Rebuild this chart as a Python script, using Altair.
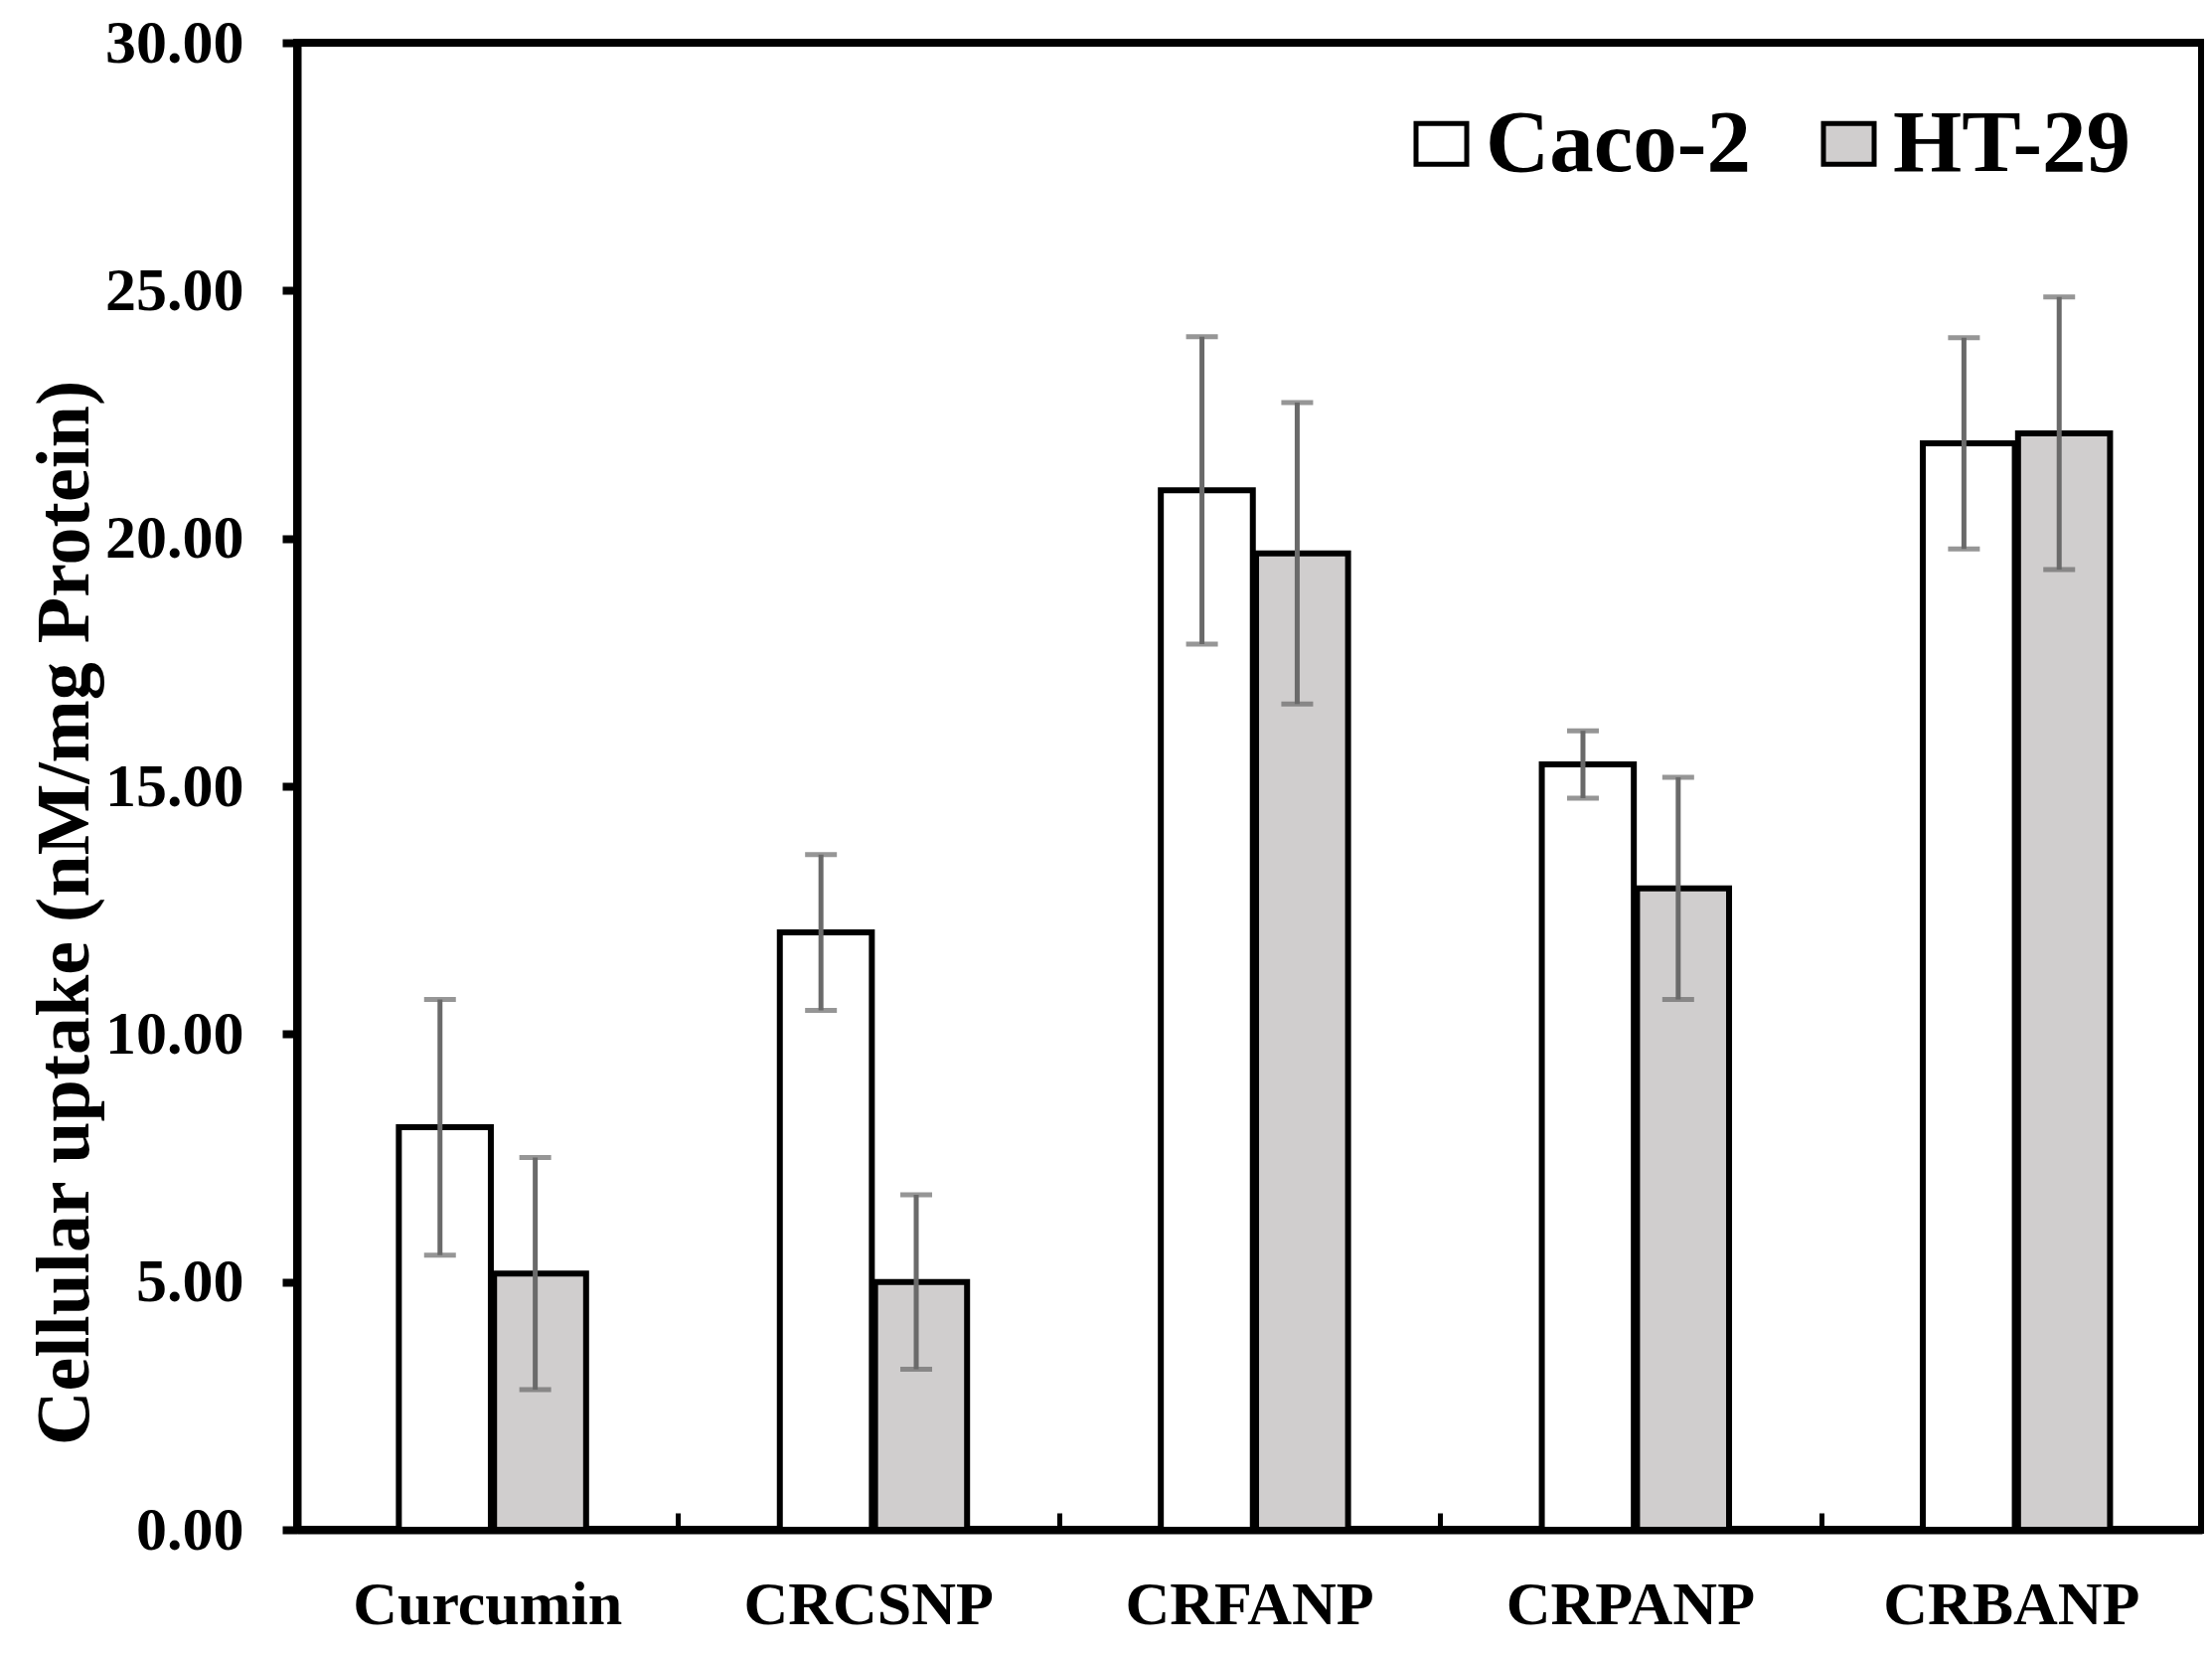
import altair as alt
import pandas as pd

categories = ["Curcumin", "CRCSNP", "CRFANP", "CRPANP", "CRBANP"]
cells = ["Caco-2", "HT-29"]
caco2_values = [8.12, 12.05, 20.97, 15.44, 21.92]
caco2_errors = [2.58, 1.57, 3.10, 0.68, 2.13]
ht29_values = [5.17, 5.00, 19.70, 12.94, 22.12]
ht29_errors = [2.34, 1.76, 3.04, 2.24, 2.75]
y_ticks = [0, 5, 10, 15, 20, 25, 30]
fill_colors = ["#FFFFFF", "#D0CECE"]

rows = []
for cell, vals, errs in [("Caco-2", caco2_values, caco2_errors), ("HT-29", ht29_values, ht29_errors)]:
    for c, v, e in zip(categories, vals, errs):
        rows.append({"cat": c, "cell": cell, "value": v, "lo": v - e, "hi": v + e})
df = pd.DataFrame(rows)

W, H = 1917, 1496
FONT = "Liberation Serif"
ERR = "#6A6A6A"
YTITLE = "Cellular uptake (nM/mg Protein)"

xscale = alt.Scale(paddingInner=0, paddingOuter=0)
xoscale = alt.Scale(domain=cells, paddingInner=0, paddingOuter=1)
yscale = alt.Scale(domain=[0, 30], nice=False, zero=True)

y_axis = alt.Axis(values=y_ticks, format=".2f", title=YTITLE,
                  grid=False, tickSize=15, tickWidth=8, tickColor="black",
                  domainColor="black", domainWidth=8, labelPadding=39, labelLimit=0,
                  labelFont=FONT, labelFontSize=62, labelFontWeight="bold", labelColor="black",
                  titleFont=FONT, titleFontSize=76, titleFontWeight="bold", titleColor="black",
                  titleAngle=270, titleAlign="center", titleBaseline="middle",
                  titleX=-234, titleY=875, titleLimit=0)

base = alt.Chart(df)

bars = base.mark_bar(stroke="black", strokeWidth=6, width=alt.RelativeBandSize(0.966)).encode(
    x=alt.X("cat:N", sort=categories, scale=xscale,
            axis=alt.Axis(title=None, ticks=False, labelAngle=0, labelPadding=45, labelLimit=0,
                          labelFont=FONT, labelFontSize=62, labelFontWeight="bold",
                          labelColor="black", domainColor="black", domainWidth=8)),
    xOffset=alt.XOffset("cell:N", sort=cells, scale=xoscale),
    y=alt.Y("value:Q", scale=yscale, axis=y_axis, title=YTITLE),
    fill=alt.Fill("cell:N", sort=cells, scale=alt.Scale(domain=cells, range=fill_colors),
                  legend=alt.Legend(title=None, orient="none", legendX=1107, legendY=57,
                                    direction="horizontal", padding=0, columnPadding=54,
                                    labelOffset=0, labelFont=FONT, labelFontSize=89,
                                    labelFontWeight="bold", labelColor="black", labelLimit=0,
                                    symbolType="M-1,-0.8H1V0.8H-1Z", symbolSize=2601,
                                    symbolStrokeColor="black", symbolStrokeWidth=5)),
)

rules = base.mark_rule(color=ERR, strokeWidth=5).encode(
    x=alt.X("cat:N", sort=categories, scale=xscale,
            axis=alt.Axis(orient="top", offset=-H, labels=False, domain=False, ticks=True,
                          tickBand="extent", tickSize=17, tickWidth=5, tickColor="black",
                          title=None, grid=False)),
    xOffset=alt.XOffset("cell:N", sort=cells, scale=xoscale),
    y=alt.Y("lo:Q", scale=yscale, axis=y_axis, title=YTITLE),
    y2="hi:Q",
)

caps_lo = base.mark_tick(color=ERR, thickness=5, size=32).encode(
    x=alt.X("cat:N", sort=categories, scale=xscale, axis=None),
    xOffset=alt.XOffset("cell:N", sort=cells, scale=xoscale),
    y=alt.Y("lo:Q", scale=yscale, axis=y_axis, title=YTITLE),
)
caps_hi = base.mark_tick(color=ERR, thickness=5, size=32).encode(
    x=alt.X("cat:N", sort=categories, scale=xscale, axis=None),
    xOffset=alt.XOffset("cell:N", sort=cells, scale=xoscale),
    y=alt.Y("hi:Q", scale=yscale, axis=y_axis, title=YTITLE),
)

chart = alt.layer(bars, rules, caps_lo, caps_hi).resolve_axis(x="independent").properties(
    width=W, height=H,
    autosize=alt.AutoSizeParams(type="none"),
    padding={"left": 291, "top": 35, "right": 2, "bottom": 120},
    background="white",
).configure_view(stroke="black", strokeWidth=8)

chart.save("out.html", embed_options={"renderer": "svg", "actions": False})
